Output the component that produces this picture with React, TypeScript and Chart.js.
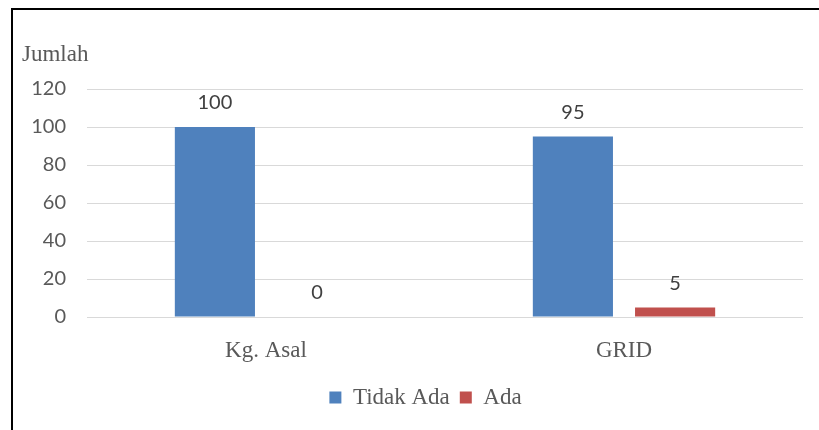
import React, { useEffect, useRef } from "react";
import { Chart, registerables } from "chart.js";

Chart.register(...registerables);

const categories = ["Kg. Asal", "GRID"];
const seriesNames = ["Tidak Ada", "Ada"];
const tidakAda = [100, 95];
const ada = [0, 5];
const yTicks = [0, 20, 40, 60, 80, 100, 120];
const axisTitle = "Jumlah";

const BLUE = "#4F81BD";
const RED = "#C0504D";
const GREY = "#595959";
const SERIF = "'Liberation Serif', 'Times New Roman', serif";
const SANS = "Lato, Carlito, Calibri, sans-serif";

const decorPlugin = {
  id: "decor",
  beforeDraw(chart: any) {
    const lg = chart.legend;
    if (lg && !lg._shifted) {
      const dx = 13;
      lg.left += dx;
      lg.right += dx;
      if (lg.legendHitBoxes) lg.legendHitBoxes.forEach((h: any) => (h.left += dx));
      lg._shifted = true;
    }
  },
  afterDraw(chart: any) {
    const ctx = chart.ctx;
    ctx.save();
    // frame
    ctx.fillStyle = "#000";
    ctx.fillRect(11, 8, 2, 430 - 8);
    ctx.fillRect(11, 8, 819 - 11, 2);
    // axis title
    ctx.fillStyle = GREY;
    ctx.font = `23px ${SERIF}`;
    ctx.textAlign = "left";
    ctx.textBaseline = "middle";
    ctx.fillText(axisTitle, 22, 55);
    // data labels
    ctx.fillStyle = "#404040";
    ctx.font = `20px ${SANS}`;
    ctx.textAlign = "center";
    chart.data.datasets.forEach((ds: any, i: number) => {
      const meta = chart.getDatasetMeta(i);
      meta.data.forEach((el: any, j: number) => {
        ctx.fillText(String(ds.data[j]), el.x, el.y - 24);
      });
    });
    ctx.restore();
  },
};

export default function App() {
  const ref = useRef<HTMLCanvasElement | null>(null);
  useEffect(() => {
    if (!ref.current) return;
    const chart = new Chart(ref.current, {
      type: "bar",
      data: {
        labels: categories,
        datasets: [
          { label: seriesNames[0], data: tidakAda, backgroundColor: BLUE },
          { label: seriesNames[1], data: ada, backgroundColor: RED },
        ],
      },
      options: {
        responsive: false,
        animation: false,
        devicePixelRatio: 1,
        layout: { padding: { top: 89, left: 22, right: 16, bottom: 11 } },
        datasets: { bar: { categoryPercentage: 0.571, barPercentage: 0.784 } },
        plugins: {
          title: { display: false },
          tooltip: { enabled: false },
          legend: {
            position: "bottom",
            labels: {
              boxWidth: 12,
              boxHeight: 12,
              padding: 10,
              color: GREY,
              font: { family: SERIF, size: 23 },
            },
          },
        },
        scales: {
          x: {
            grid: { display: false },
            border: { display: false },
            ticks: {
              color: GREY,
              padding: 12,
              font: { family: SERIF, size: 23 },
            },
            afterFit(scale: any) {
              scale.height = 59;
            },
          },
          y: {
            min: 0,
            max: 120,
            afterBuildTicks(scale: any) {
              scale.ticks = yTicks.map((v) => ({ value: v }));
            },
            grid: { color: "#d9d9d9", lineWidth: 1, drawTicks: false },
            border: { display: false },
            ticks: {
              color: GREY,
              padding: 21,
              font: { family: SANS, size: 20 },
            },
            afterFit(scale: any) {
              scale.width = 65;
            },
          },
        },
      },
      plugins: [decorPlugin],
    } as any);
    return () => chart.destroy();
  }, []);
  return (
    <div style={{ position: "fixed", left: 0, top: 0 }}>
      <canvas ref={ref} width={819} height={430} style={{ display: "block" }} />
    </div>
  );
}
